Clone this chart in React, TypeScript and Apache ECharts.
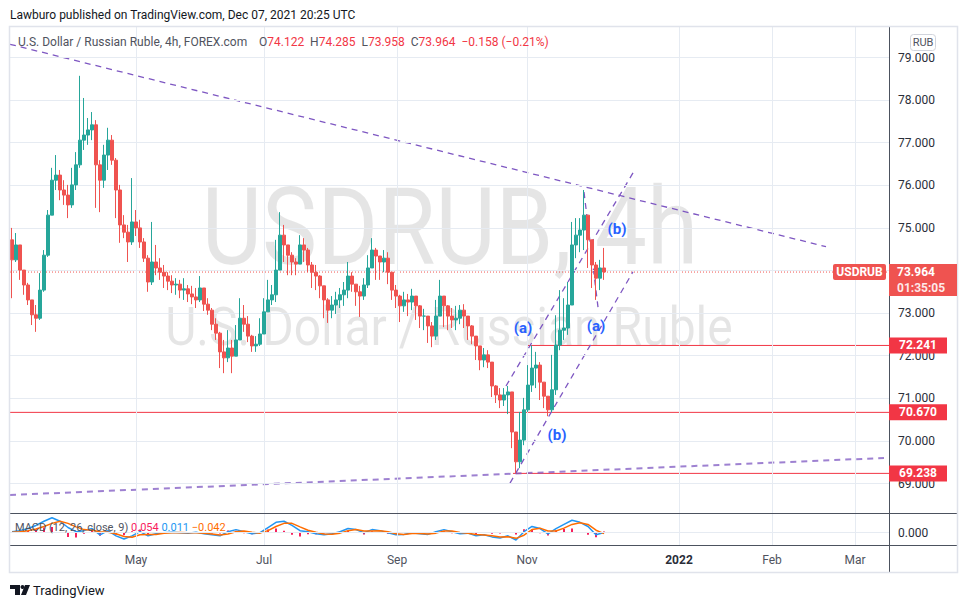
import React, { useEffect, useRef } from 'react';
import * as echarts from 'echarts';

const FONT = 'Roboto, "Noto Sans", sans-serif';

// ---- axes (x = candle slot index) ----
const timeLabels = ['May', 'Jul', 'Sep', 'Nov', '2022', 'Feb', 'Mar'];
const timeLabelPos = [31.0, 63.0, 96.25, 128.75, 166.75, 190, 210.75];
const priceTicks = [69, 70, 71, 72, 73, 74, 75, 76, 77, 78, 79];
const X_MIN = -0.5;
const X_MAX = 219.25;

// ---- candles ----
const firstOpen = 74.72;
const closes = [
  74.25, 74.60, 74.01, 73.66, 73.31, 72.96, 72.88, 73.54, 74.36, 75.30,
  76.12, 76.24, 75.89, 75.77, 75.54, 76.01, 76.48, 77.06, 77.18, 77.30,
  77.42, 76.48, 76.12, 76.71, 77.06, 76.59, 75.89, 75.07, 74.90, 74.67,
  75.14, 75.00, 74.67, 74.29, 73.73, 74.20, 74.06, 73.96, 73.87, 73.75,
  73.66, 73.68, 73.54, 73.57, 73.45, 73.38, 73.31, 73.59, 73.21, 73.07,
  72.74, 72.53, 72.09, 71.95, 72.18, 71.99, 72.37, 72.88, 72.74, 72.46,
  72.23, 72.27, 72.51, 73.03, 73.31, 73.43, 74.01, 74.83, 74.60, 74.36,
  74.20, 74.15, 74.60, 74.48, 74.13, 73.96, 73.87, 73.64, 73.31, 73.07,
  73.19, 73.31, 73.43, 73.54, 73.87, 73.68, 73.50, 73.40, 73.66, 74.06,
  74.48, 74.34, 74.20, 74.29, 73.96, 73.54, 73.40, 73.17, 73.31, 73.26,
  73.40, 73.17, 72.93, 72.93, 72.70, 72.46, 72.93, 73.40, 73.17, 72.93,
  72.84, 72.88, 73.07, 72.93, 72.70, 72.46, 72.23, 71.90, 72.02, 71.85,
  71.29, 71.08, 70.96, 71.08, 71.15, 70.21, 69.51, 70.02, 70.73, 71.31,
  71.71, 71.78, 71.38, 71.05, 70.73, 71.20, 72.25, 72.60, 72.65, 73.19,
  74.60, 74.83, 74.95, 75.30, 74.72, 74.13, 73.82, 74.06, 73.964,
];
const highs = [
  75.00, 74.88, 74.29, 74.01, 73.71, 73.31, 73.19, 73.94, 74.48, 75.42,
  76.41, 76.71, 76.36, 76.12, 76.01, 76.41, 76.78, 78.57, 78.05, 77.58,
  77.72, 77.53, 76.59, 76.95, 77.35, 77.18, 76.64, 76.01, 75.30, 75.07,
  76.17, 75.42, 75.19, 74.76, 74.36, 75.14, 74.60, 74.29, 74.13, 73.96,
  73.89, 73.82, 73.78, 73.82, 73.66, 73.64, 73.59, 73.87, 73.45, 73.35,
  73.12, 72.88, 72.56, 72.37, 72.60, 72.37, 72.72, 73.35, 73.19, 72.93,
  72.49, 72.46, 72.88, 73.35, 73.78, 73.66, 74.72, 75.37, 75.07, 74.60,
  74.43, 74.29, 74.83, 74.76, 74.53, 74.20, 74.13, 73.89, 73.54, 73.35,
  73.40, 73.50, 73.59, 73.73, 74.20, 73.96, 73.66, 73.64, 73.82, 74.36,
  74.76, 74.53, 74.34, 74.48, 74.43, 73.78, 73.66, 73.43, 73.50, 73.45,
  73.57, 73.40, 73.19, 73.10, 72.88, 72.79, 73.31, 73.78, 73.35, 73.19,
  73.12, 73.17, 73.19, 73.21, 72.84, 72.72, 72.42, 72.18, 72.18, 72.13,
  71.78, 71.31, 71.24, 71.24, 71.29, 70.84, 70.02, 70.68, 71.01, 71.78,
  72.241, 72.09, 71.85, 71.31, 71.05, 72.02, 72.95, 73.54, 73.35, 73.73,
  75.14, 75.23, 75.23, 75.89, 75.14, 74.53, 74.20, 74.25, 74.53,
];
const lows = [
  73.35, 74.20, 73.78, 73.43, 73.19, 72.72, 72.56, 72.84, 73.50, 74.32,
  75.30, 75.89, 75.65, 75.54, 75.23, 75.47, 75.89, 76.41, 76.83, 76.95,
  77.06, 75.47, 75.37, 75.94, 76.36, 76.48, 75.23, 74.65, 74.76, 74.20,
  74.60, 74.81, 74.53, 74.20, 73.50, 73.66, 73.89, 73.78, 73.59, 73.54,
  73.47, 73.43, 73.35, 73.31, 73.26, 73.21, 73.12, 73.26, 73.05, 72.96,
  72.60, 72.37, 71.71, 71.59, 71.85, 71.59, 72.09, 72.60, 72.56, 72.32,
  72.09, 72.09, 72.23, 72.72, 73.07, 73.19, 73.26, 74.48, 74.20, 73.89,
  73.89, 73.89, 74.20, 74.20, 73.96, 73.59, 73.54, 73.35, 72.88, 72.77,
  72.88, 72.98, 73.12, 73.17, 73.35, 73.50, 73.17, 72.91, 73.31, 73.59,
  74.06, 73.78, 73.78, 73.96, 73.68, 73.31, 73.12, 72.79, 73.03, 72.93,
  73.07, 72.84, 72.65, 72.60, 72.30, 72.20, 72.37, 73.12, 72.67, 72.60,
  72.65, 72.60, 72.74, 72.65, 72.37, 72.27, 71.90, 71.66, 71.73, 71.71,
  71.03, 70.89, 70.77, 70.82, 70.63, 69.83, 69.238, 69.36, 69.90, 70.68,
  71.15, 71.24, 70.96, 70.77, 70.58, 70.68, 71.08, 72.13, 72.37, 72.49,
  73.19, 74.29, 74.43, 74.48, 74.06, 73.59, 73.31, 73.54, 73.78,
];

// ---- MACD (12, 26, close, 9): one reading every 2 slots ----
const macdStep = 2;
const macdLine = [
  0.05, 0.10, 0.20, 0.35, 0.55, 0.72, 0.55, 0.25, 0.05, 0.10,
  0.20, -0.10, 0.10, -0.15, -0.30, -0.15, 0.05, -0.15, -0.05, 0.00,
  0.02, 0.00, -0.02, 0.02, -0.05, -0.10, -0.15, 0.05, 0.15, 0.05,
  -0.05, 0.00, 0.25, 0.50, 0.55, 0.35, 0.10, 0.05, -0.05, -0.10,
  -0.05, 0.05, 0.20, 0.15, 0.00, 0.15, 0.10, 0.00, -0.10, -0.08,
  0.00, -0.05, -0.08, 0.05, 0.15, 0.05, -0.05, -0.02, -0.15, -0.10,
  -0.20, -0.25, -0.15, -0.35, 0.05, 0.30, 0.20, -0.05, 0.20, 0.40,
  0.60, 0.50, 0.30, -0.10, 0.011,
];
const signalLine = [
  0.02, 0.05, 0.10, 0.18, 0.30, 0.45, 0.55, 0.45, 0.28, 0.15,
  0.12, 0.05, 0.02, -0.05, -0.18, -0.22, -0.10, -0.08, -0.08, -0.03,
  0.00, 0.01, 0.00, 0.00, -0.02, -0.06, -0.11, -0.06, 0.05, 0.08,
  0.02, -0.02, 0.10, 0.30, 0.45, 0.45, 0.28, 0.12, 0.02, -0.06,
  -0.07, -0.02, 0.10, 0.15, 0.08, 0.08, 0.10, 0.05, -0.05, -0.08,
  -0.04, -0.04, -0.06, -0.02, 0.08, 0.08, 0.01, -0.02, -0.08, -0.11,
  -0.15, -0.21, -0.19, -0.27, -0.12, 0.15, 0.22, 0.08, 0.08, 0.22,
  0.40, 0.48, 0.40, 0.12, -0.042,
];

// ---- drawings ----
const resistanceLine = [[-0.5, 79.31], [203.5, 74.56]];
const supportLine = [[-0.5, 68.73], [218, 69.6]];
const channelUpper = [[123.5, 71.29], [155.25, 76.29]];
const channelLower = [[124.5, 69.01], [155.25, 73.97]];
const peakLine = [[143, 75.84], [146.5, 73.14]];
const levelPrices = [72.241, 70.67, 69.238];
const levelStarts = [128.75, -0.5, 125.25];
const lastPrice = 73.964;
const lastTimer = '01:35:05';
const waveNames = ['(a)', '(b)', '(a)', '(b)'];
const waveX = [127.75, 136.25, 146, 151.25];
const waveY = [72.65, 70.14, 72.7, 74.97];

export default function App() {
  const ref = useRef<HTMLDivElement>(null);

  useEffect(() => {
    const prevMargin = document.body.style.margin;
    document.body.style.margin = '0';
    const chart = echarts.init(ref.current as HTMLDivElement, null, { renderer: 'svg' });

    const candleData = closes.map((c, i) => {
      const o = i === 0 ? firstOpen : closes[i - 1];
      const h = Math.max(highs[i], o, c);
      const l = Math.min(lows[i], o, c);
      return [i, o, c, l, h];
    });
    const macdData = macdLine.map((v, k) => [k * macdStep, v]);
    const signalData = signalLine.map((v, k) => [k * macdStep, v]);
    const histData = macdLine.map((v, k) => [k * macdStep, +(v - signalLine[k]).toFixed(3)]);

    const gridColor = '#E6EBF2';
    const dashed = (data: number[][], width = 1.3, opacity = 1) => ({
      type: 'line',
      xAxisIndex: 0,
      yAxisIndex: 0,
      data,
      symbol: 'none',
      silent: true,
      z: 4,
      lineStyle: { color: '#7E57C2', width, type: [6, 5], opacity },
    });

    const option: any = {
      animation: false,
      textStyle: { fontFamily: FONT },
      grid: [
        { left: 10, top: 27, width: 879, height: 486 },
        { left: 10, top: 514, width: 879, height: 31 },
      ],
      xAxis: [
        {
          gridIndex: 0, type: 'value', min: X_MIN, max: X_MAX,
          axisLine: { show: false }, axisTick: { show: false },
          axisLabel: { show: false }, splitLine: { show: false },
        },
        {
          gridIndex: 1, type: 'value', min: X_MIN, max: X_MAX,
          axisLine: { show: false }, axisTick: { show: false }, splitLine: { show: false },
          axisLabel: {
            customValues: timeLabelPos,
            margin: 9,
            fontSize: 12,
            color: '#50535E',
            fontFamily: FONT,
            formatter: (v: number) => {
              const i = timeLabelPos.findIndex((p) => Math.abs(p - v) < 0.01);
              const t = i >= 0 ? timeLabels[i] : '';
              return t === '2022' ? '{b|2022}' : t;
            },
            rich: { b: { fontWeight: 'bold', color: '#2A2E39', fontSize: 12, fontFamily: FONT } },
          },
        },
      ],
      yAxis: [
        {
          gridIndex: 0, type: 'value', position: 'right', min: 68.308, max: 79.716,
          axisLine: { show: false }, axisTick: { show: false }, splitLine: { show: false },
          axisLabel: {
            customValues: priceTicks, margin: 9, fontSize: 12, color: '#2A2E39', fontFamily: FONT,
            formatter: (v: number) => v.toFixed(3),
          },
        },
        {
          gridIndex: 1, type: 'value', position: 'right', min: -0.59, max: 0.9,
          axisLine: { show: false }, axisTick: { show: false }, splitLine: { show: false },
          axisLabel: {
            customValues: [0], margin: 9, fontSize: 12, color: '#2A2E39', fontFamily: FONT,
            formatter: (v: number) => v.toFixed(3),
          },
        },
      ],
      series: [
        {
          type: 'line', xAxisIndex: 0, yAxisIndex: 0, data: [], silent: true, z: 1,
          markLine: {
            silent: true, symbol: ['none', 'none'], label: { show: false },
            lineStyle: { color: gridColor, width: 1, type: 'solid' },
            data: [
              ...timeLabelPos.map((v) => ({ xAxis: v })),
              ...priceTicks.map((v) => ({ yAxis: v })),
            ],
          },
        },
        {
          type: 'line', xAxisIndex: 1, yAxisIndex: 1, data: [], silent: true, z: 1,
          markLine: {
            silent: true, symbol: ['none', 'none'], label: { show: false },
            lineStyle: { color: gridColor, width: 1, type: 'solid' },
            data: [...timeLabelPos.map((v) => ({ xAxis: v })), { yAxis: 0 }],
          },
        },
        ...levelPrices.map((p, i) => ({
          type: 'line', xAxisIndex: 0, yAxisIndex: 0, symbol: 'none', silent: true, z: 3,
          data: [[levelStarts[i], p], [X_MAX, p]],
          lineStyle: { color: '#F23645', width: 1 },
        })),
        {
          type: 'line', xAxisIndex: 0, yAxisIndex: 0, symbol: 'none', silent: true, z: 3,
          data: [[X_MIN, lastPrice], [X_MAX, lastPrice]],
          lineStyle: { color: '#EF5350', width: 1, type: [1, 2] },
        },
        dashed(resistanceLine),
        dashed(supportLine, 2, 0.75),
        dashed(channelUpper),
        dashed(channelLower),
        dashed(peakLine),
        {
          type: 'candlestick', xAxisIndex: 0, yAxisIndex: 0, z: 5,
          data: candleData,
          encode: { x: 0, y: [1, 2, 3, 4] },
          barWidth: 3,
          itemStyle: {
            color: '#26A69A', color0: '#EF5350',
            borderColor: '#26A69A', borderColor0: '#EF5350', borderWidth: 1,
          },
        },
        {
          type: 'scatter', xAxisIndex: 0, yAxisIndex: 0, z: 6, silent: true,
          data: waveX.map((x, i) => [x, waveY[i]]),
          symbolSize: 1,
          itemStyle: { color: 'transparent' },
          label: {
            show: true, position: 'inside', color: '#2962FF', fontWeight: 'bold', fontSize: 15,
            fontFamily: FONT, textBorderWidth: 0, opacity: 1,
            formatter: (p: any) => waveNames[p.dataIndex],
          },
        },
        {
          type: 'bar', xAxisIndex: 1, yAxisIndex: 1, data: histData, barWidth: 2, silent: true,
          itemStyle: { color: '#F7215D' },
        },
        {
          type: 'line', xAxisIndex: 1, yAxisIndex: 1, data: macdData, symbol: 'none', silent: true,
          lineStyle: { color: '#2196F3', width: 1.5 },
        },
        {
          type: 'line', xAxisIndex: 1, yAxisIndex: 1, data: signalData, symbol: 'none', silent: true,
          lineStyle: { color: '#FF6D00', width: 1.5 },
        },
      ],
    };
    chart.setOption(option);

    const py = (p: number) => chart.convertToPixel({ yAxisIndex: 0 } as any, p) as number;
    const txt = (x: number, y: number, text: string, fill: string, fontSize = 12, extra: any = {}, z = 100) => ({
      type: 'text', x, y, z, silent: true,
      style: {
        text, fill, fontSize, fontFamily: FONT,
        fontWeight: extra.bold ? 'bold' : 'normal',
        align: extra.align || 'left', textAlign: extra.align || 'left',
        verticalAlign: 'middle', textVerticalAlign: 'middle',
        rich: extra.rich,
      },
    });
    const line = (x1: number, y1: number, x2: number, y2: number, stroke: string, lineWidth = 1, z = 90) => ({
      type: 'line', z, silent: true, shape: { x1, y1, x2, y2 }, style: { stroke, lineWidth },
    });
    const rs = (fill: string, fontSize = 12) => ({ fill, color: fill, fontSize, fontFamily: FONT });

    const lastY = py(lastPrice);
    const graphic: any[] = [
      // watermark
      {
        type: 'text', x: 450, y: 228, z: 1, scaleX: 0.86, silent: true,
        style: {
          text: 'USDRUB, 4h', fontSize: 108, fontFamily: FONT, fill: 'rgba(0,0,0,0.1)',
          align: 'center', textAlign: 'center', verticalAlign: 'middle', textVerticalAlign: 'middle',
        },
      },
      {
        type: 'text', x: 449, y: 327, z: 1, scaleX: 0.89, silent: true,
        style: {
          text: 'U.S. Dollar / Russian Ruble', fontSize: 54, fontFamily: FONT, fill: 'rgba(0,0,0,0.1)',
          align: 'center', textAlign: 'center', verticalAlign: 'middle', textVerticalAlign: 'middle',
        },
      },
      // header
      txt(10, 15, 'Lawburo published on TradingView.com, Dec 07, 2021 20:25 UTC', '#131722', 12),
      txt(18, 42, 'U.S. Dollar / Russian Ruble, 4h, FOREX.com', '#50535E', 12),
      txt(259, 42,
        '{g|O}{r|74.122}  {g|H}{r|74.285}  {g|L}{r|73.958}  {g|C}{r|73.964}  {r|−0.158 (−0.21%)}',
        '#50535E', 12, { rich: { g: rs('#50535E'), r: rs('#F23645') } }),
      // frame
      {
        type: 'rect', z: 95, silent: true, shape: { x: 9.5, y: 26.5, width: 948, height: 546 },
        style: { fill: 'none', stroke: '#E0E3EB', lineWidth: 1.5 },
      },
      line(889.5, 26, 889.5, 572, '#4C525E'),
      line(10, 513.5, 957, 513.5, '#4C525E'),
      line(10, 545.5, 957, 545.5, '#4C525E'),
      // RUB box
      {
        type: 'rect', z: 96, silent: true, shape: { x: 910.5, y: 34.5, width: 25, height: 16, r: 3 },
        style: { fill: '#fff', stroke: '#D1D4DC', lineWidth: 1 },
      },
      txt(923, 42.5, 'RUB', '#50535E', 11, { align: 'center' }, 97),
      // MACD legend
      txt(15, 527,
        '{g|MACD (12, 26, close, 9)} {p|0.054} {b|0.011} {o|−0.042}',
        '#50535E', 11,
        { rich: { g: rs('#50535E', 11), p: rs('#F7215D', 11), b: rs('#2196F3', 11), o: rs('#FF6D00', 11) } }),
      // TradingView footer
      {
        type: 'polygon', z: 100, silent: true,
        shape: { points: [[10, 585], [20, 585], [20, 595], [15, 595], [15, 589], [10, 589]] },
        style: { fill: '#131722' },
      },
      { type: 'circle', z: 100, silent: true, shape: { cx: 22.5, cy: 587, r: 2 }, style: { fill: '#131722' } },
      {
        type: 'polygon', z: 100, silent: true,
        shape: { points: [[25, 585], [30, 585], [26, 595], [21, 595]] },
        style: { fill: '#131722' },
      },
      txt(33, 590.5, 'TradingView', '#131722', 13),
      // last price labels
      {
        type: 'rect', z: 100, silent: true, shape: { x: 833, y: lastY - 8, width: 53, height: 16, r: 2 },
        style: { fill: '#EF5350' },
      },
      txt(859.5, lastY, 'USDRUB', '#fff', 12, { bold: true, align: 'center' }, 101),
      {
        type: 'rect', z: 100, silent: true, shape: { x: 889, y: lastY - 8, width: 68, height: 32 },
        style: { fill: '#EF5350' },
      },
      txt(897, lastY, lastPrice.toFixed(3), '#fff', 12, { bold: true }, 101),
      txt(897, lastY + 16, lastTimer, 'rgba(255,255,255,0.88)', 12, { bold: true }, 101),
    ];
    levelPrices.forEach((p) => {
      const y = py(p);
      graphic.push({
        type: 'rect', z: 100, silent: true, shape: { x: 889, y: y - 8, width: 58, height: 16 },
        style: { fill: '#F23645' },
      });
      graphic.push(txt(918, y, p.toFixed(3), '#fff', 12, { bold: true, align: 'center' }, 101));
    });
    chart.setOption({ graphic });

    return () => {
      chart.dispose();
      document.body.style.margin = prevMargin;
    };
  }, []);

  return <div ref={ref} style={{ width: 967, height: 608 }} />;
}
